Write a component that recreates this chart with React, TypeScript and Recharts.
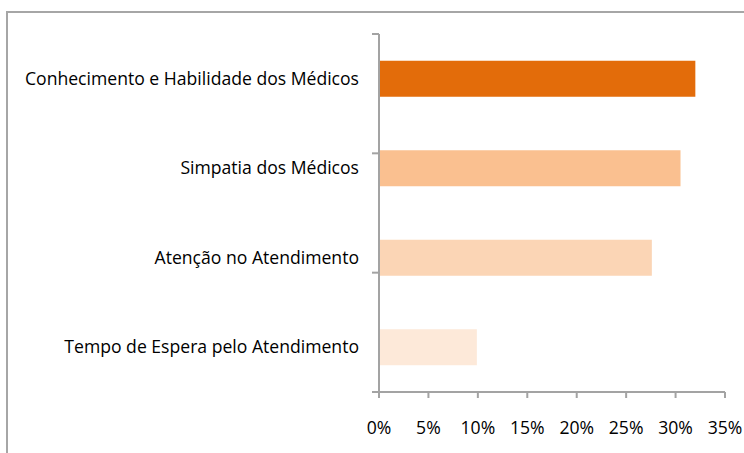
import React from "react";
import { BarChart, Bar, XAxis, YAxis, Cell } from "recharts";

const categories = [
  "Conhecimento e Habilidade dos Médicos",
  "Simpatia dos Médicos",
  "Atenção no Atendimento",
  "Tempo de Espera pelo Atendimento",
];
const values = [0.32, 0.305, 0.276, 0.099];
const xTicks = [0, 0.05, 0.1, 0.15, 0.2, 0.25, 0.3, 0.35];
const boundaryTicks = [0, 1, 2, 3, 4];

const BAR_COLORS = ["#E36C0A", "#FAC090", "#FBD5B5", "#FDE9D9"];
const AXIS = "#a3a3a3";
const FONT = "'Open Sans', sans-serif";

const data = categories.map((name, i) => ({ name, value: values[i] }));

export default function App() {
  return (
    <div
      style={{
        position: "absolute",
        left: 0,
        top: 0,
        width: 744,
        height: 453,
        overflow: "hidden",
        background: "#fff",
      }}
    >
      <div
        style={{
          position: "absolute",
          left: 6,
          top: 11,
          width: 800,
          height: 500,
          borderTop: "2px solid #a6a6a6",
          borderLeft: "2px solid #a6a6a6",
        }}
      />
      <div style={{ position: "absolute", left: 0, top: 0 }}>
        <BarChart
          width={744}
          height={453}
          data={data}
          layout="vertical"
          margin={{ top: 34, right: 19, bottom: 31, left: 0 }}
          barCategoryGap="30%"
        >
          <YAxis
            yAxisId={0}
            type="number"
            domain={[0, 4]}
            ticks={boundaryTicks}
            width={1}
            tickSize={7}
            tickFormatter={() => ""}
            axisLine={{ stroke: AXIS, strokeWidth: 2 }}
            tickLine={{ stroke: AXIS, strokeWidth: 2 }}
          />
          <YAxis
            yAxisId={1}
            type="category"
            dataKey="name"
            width={378}
            axisLine={false}
            tickLine={false}
            tickSize={0}
            tickMargin={19}
            tick={{ fill: "#000", fontSize: 17.6, fontFamily: FONT }}
          />
          <XAxis
            type="number"
            domain={[0, 0.35]}
            ticks={xTicks}
            height={30}
            tickSize={6}
            tickMargin={24}
            tickFormatter={(v: number) => `${Math.round(v * 100)}%`}
            axisLine={{ stroke: AXIS, strokeWidth: 2 }}
            tickLine={{ stroke: AXIS, strokeWidth: 2 }}
            tick={{ fill: "#000", fontSize: 17.6, fontFamily: FONT }}
            interval={0}
          />
          <Bar dataKey="value" yAxisId={1} isAnimationActive={false}>
            {data.map((d, i) => (
              <Cell key={d.name} fill={BAR_COLORS[i]} />
            ))}
          </Bar>
        </BarChart>
      </div>
    </div>
  );
}
